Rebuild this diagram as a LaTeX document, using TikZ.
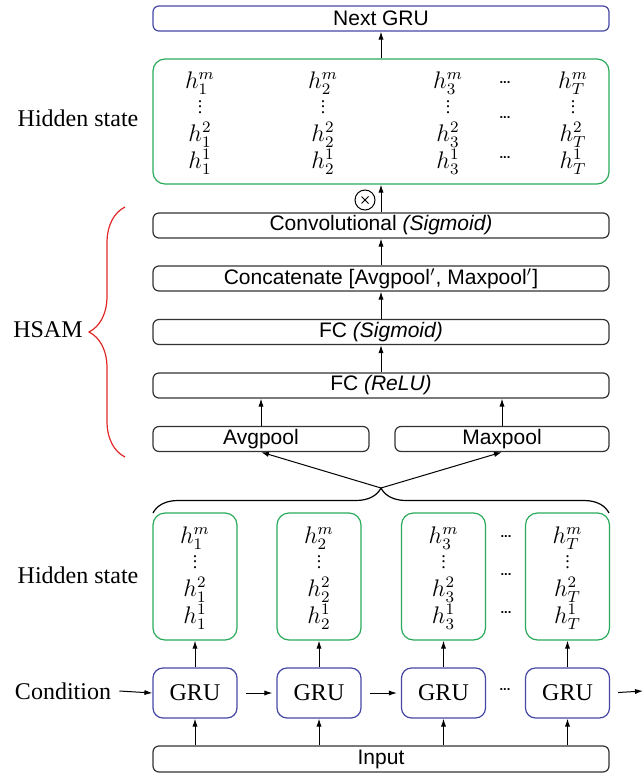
\documentclass[tikz,border=0pt]{standalone}
\usepackage{fontspec}
\setmainfont{Liberation Serif}
\setsansfont{Liberation Sans}
\usetikzlibrary{arrows.meta,decorations.pathreplacing}

\definecolor{hgreen}{RGB}{40,170,90}
\definecolor{gblue}{RGB}{70,70,165}
\definecolor{bred}{RGB}{225,40,40}

\newcommand{\vdotsm}{\raisebox{0.8pt}{\fontsize{9}{9}\selectfont\vbox{\baselineskip=2.8pt\lineskiplimit=-10pt\hbox{.}\hbox{.}\hbox{.}}}}
\newcommand{\hcol}[1]{$h_{#1}^{m}$\\\vdotsm\\$h_{#1}^{2}$\\$h_{#1}^{1}$}

\tikzset{
  sbox/.style={draw=black!80, line width=0.6pt, rounded corners=3pt, inner sep=0pt,
    minimum height=12.5pt, font=\sffamily\fontsize{10.5}{12}\selectfont},
  nextbox/.style={sbox, draw=gblue},
  hidbox/.style={draw=hgreen, line width=0.6pt, rounded corners=6pt, inner sep=0pt},
  grubox/.style={draw=gblue, line width=0.6pt, rounded corners=5pt, inner sep=0pt,
    minimum width=42pt, minimum height=25pt, font=\fontsize{12}{14}\selectfont},
  hh/.style={inner sep=0pt, align=center, font=\fontsize{11.5}{13.3}\selectfont},
  dd/.style={inner sep=0pt, font=\sffamily\bfseries\fontsize{6.5}{8}\selectfont},
  lab/.style={inner sep=0pt, font=\fontsize{12}{14}\selectfont},
  arr/.style={-{Latex[length=4pt,width=2.6pt]}, line width=0.5pt},
}

\begin{document}
\begin{tikzpicture}[x=0.5pt,y=-0.5pt]
\useasboundingbox (0,0) rectangle (643,776);

% output side
\node[nextbox,minimum width=228pt] (next) at (381,18.5) {Next GRU};
\node[hidbox,minimum width=228pt,minimum height=62.5pt] (hidT) at (381,121.5) {};
\foreach \x/\s in {200/1,323/2,448/3,573/T}
  \node[hh] (tc\s) at (\x,123) {\hcol{\s}};
\node[dd] (td1) at (505,83) {...};
\node[dd] (td2) at (505,118) {...};
\node[dd] (td3) at (505,158) {...};
\node[lab] (hsT) at (78,118) {Hidden state};
\node[circle,draw,line width=0.5pt,inner sep=0pt,minimum size=10pt] (mul) at (365,200) {};
\draw[line width=0.4pt] ([shift={(-3.5,-3.5)}]mul.center) -- ([shift={(3.5,3.5)}]mul.center)
  ([shift={(-3.5,3.5)}]mul.center) -- ([shift={(3.5,-3.5)}]mul.center);

% HSAM
\node[sbox,minimum width=228pt] (conv) at (381,225.5) {Convolutional \textit{(Sigmoid)}};
\node[sbox,minimum width=228pt] (cat) at (381,278.5) {Concatenate [Avgpool$'$, Maxpool$'$]};
\node[sbox,minimum width=228pt] (fcs) at (381,332) {FC \textit{(Sigmoid)}};
\node[sbox,minimum width=228pt] (fcr) at (381,385.5) {FC \textit{(ReLU)}};
\node[sbox,minimum width=108pt] (avg) at (261,439) {Avgpool};
\node[sbox,minimum width=107pt] (max) at (502,439) {Maxpool};
\draw[bred,line width=0.6pt,decorate,decoration={brace,amplitude=18pt}] (125,457) -- (125,207);
\node[lab] (hsam) at (48,330) {HSAM};

\draw[arr] (hidT.north) -- (next.south);
\draw[arr] (conv.north) -- (hidT.south);
\draw[arr] (cat.north) -- (conv.south);
\draw[arr] (fcs.north) -- (cat.south);
\draw[arr] (fcr.north) -- (fcs.south);
\draw[arr] (avg.north) -- (fcr.south -| avg.north);
\draw[arr] (max.north) -- (fcr.south -| max.north);

% GRU chain
\draw[line width=0.6pt,decorate,decoration={brace,amplitude=12.5pt}] (153,513) -- (609,513);
\coordinate (tip) at (381,488);
\draw[arr] (tip) -- (avg.south);
\draw[arr] (tip) -- (max.south);

\foreach \i/\x/\s in {1/195/1,2/319/2,3/443.5/3,4/567.5/T}{
  \node[hidbox,minimum width=42pt,minimum height=63.5pt] (h\i) at (\x,576.5) {};
  \node[hh] (hc\i) at (\x,578) {\hcol{\s}};
  \node[grubox] (g\i) at (\x,693) {GRU};
  \draw[arr] (g\i.north) -- (h\i.south);
}
\node[dd] (hd1) at (506,537) {...};
\node[dd] (hd2) at (506,575) {...};
\node[dd] (hd3) at (506,613) {...};
\node[dd] (gd) at (505,690) {...};
\node[lab] (hsB) at (78,575) {Hidden state};
\node[lab] (cond) at (63,691) {Condition};
\node[sbox,minimum width=228pt,minimum height=13pt] (in) at (381,759) {Input};
\coordinate (out) at (643,691);

\draw[arr] (cond.east) ++(4pt,0) -- (g1.west);
\draw[arr,shorten <=4pt,shorten >=2pt] (g1.east) -- (g2.west);
\draw[arr,shorten <=4pt,shorten >=2pt] (g2.east) -- (g3.west);
\draw[arr,shorten <=4pt] (g4.east) -- (out);
\foreach \i in {1,...,4}
  \draw[arr] (in.north -| g\i.south) -- (g\i.south);
\end{tikzpicture}
\end{document}
